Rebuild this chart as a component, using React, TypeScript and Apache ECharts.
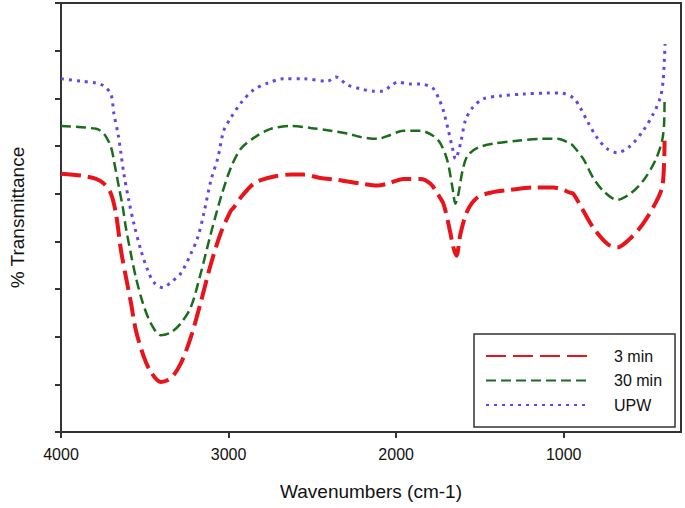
import React, { useEffect, useRef } from "react";
import * as echarts from "echarts";

const seriesNames = ["3 min", "30 min", "UPW"];

const red3min: [number, number][] = [
  [4000, 5.42], [3880, 5.38], [3791, 5.31], [3744, 5.21], [3702, 5.0], [3672, 4.58],
  [3642, 3.81], [3613, 3.26], [3583, 2.72], [3553, 2.13], [3505, 1.57], [3464, 1.26],
  [3404, 1.05], [3344, 1.13], [3285, 1.44], [3225, 1.99], [3166, 2.72], [3106, 3.52],
  [3046, 4.18], [2987, 4.64], [2969, 4.71], [2927, 4.92], [2850, 5.21], [2766, 5.33],
  [2629, 5.4], [2552, 5.4], [2451, 5.33], [2349, 5.29], [2212, 5.21], [2111, 5.17],
  [2051, 5.21], [1956, 5.31], [1855, 5.31], [1795, 5.21], [1753, 5.0], [1718, 4.79],
  [1688, 4.37], [1658, 3.87], [1640, 3.7], [1616, 4.16], [1575, 4.64], [1515, 4.92],
  [1437, 5.02], [1318, 5.08], [1181, 5.13], [1062, 5.13], [1020, 5.1], [961, 5.02],
  [943, 5.0], [883, 4.64], [824, 4.29], [740, 3.95], [681, 3.87], [603, 4.06],
  [526, 4.37], [454, 4.79], [413, 5.13], [401, 5.63], [398, 6.11],
];

const green30min: [number, number][] = [
  [4000, 6.42], [3791, 6.36], [3744, 6.26], [3702, 5.98], [3684, 5.69], [3654, 5.13],
  [3631, 4.71], [3613, 4.29], [3583, 3.74], [3553, 3.24], [3511, 2.7], [3464, 2.28],
  [3404, 2.03], [3344, 2.09], [3285, 2.28], [3225, 2.62], [3166, 3.33], [3106, 4.16],
  [3046, 4.92], [2987, 5.54], [2927, 5.94], [2850, 6.17], [2749, 6.36], [2629, 6.42],
  [2510, 6.38], [2391, 6.32], [2290, 6.26], [2212, 6.19], [2111, 6.15], [2051, 6.21],
  [1956, 6.32], [1855, 6.32], [1777, 6.21], [1735, 6.05], [1694, 5.69], [1664, 5.13],
  [1646, 4.79], [1628, 5.0], [1604, 5.48], [1575, 5.79], [1515, 5.96], [1420, 6.05],
  [1277, 6.11], [1122, 6.15], [1038, 6.15], [961, 6.05], [943, 6.0], [883, 5.73],
  [824, 5.33], [764, 5.06], [681, 4.87], [603, 5.0], [526, 5.27], [454, 5.69],
  [413, 6.11], [401, 6.46], [398, 7.01],
];

const purpleUPW: [number, number][] = [
  [4000, 7.41], [3881, 7.36], [3791, 7.32], [3744, 7.26], [3702, 7.09], [3684, 6.67],
  [3660, 6.26], [3642, 5.84], [3625, 5.42], [3595, 4.85], [3565, 4.37], [3523, 3.81],
  [3482, 3.39], [3446, 3.14], [3392, 3.03], [3344, 3.14], [3285, 3.33], [3225, 3.74],
  [3184, 4.08], [3148, 4.58], [3106, 5.27], [3064, 5.75], [3029, 6.32], [2987, 6.59],
  [2927, 6.9], [2850, 7.18], [2766, 7.32], [2671, 7.41], [2552, 7.41], [2409, 7.36],
  [2361, 7.45], [2290, 7.28], [2212, 7.2], [2135, 7.15], [2081, 7.15], [2033, 7.26],
  [1992, 7.34], [1914, 7.3], [1855, 7.3], [1783, 7.22], [1747, 7.01], [1718, 6.74],
  [1688, 6.32], [1664, 5.96], [1646, 5.73], [1616, 6.05], [1587, 6.53], [1545, 6.8],
  [1479, 6.99], [1378, 7.05], [1241, 7.09], [1098, 7.11], [1020, 7.11], [943, 7.01],
  [901, 6.8], [854, 6.49], [800, 6.17], [740, 5.94], [681, 5.86], [603, 6.0],
  [526, 6.32], [466, 6.67], [424, 7.01], [407, 7.36], [395, 8.14],
];

const xTickLabels = [1000, 2000, 3000, 4000];

const FONT = "Arial, 'Liberation Sans', sans-serif";

export default function App() {
  const ref = useRef<HTMLDivElement>(null);
  useEffect(() => {
    if (!ref.current) return;
    const chart = echarts.init(ref.current, undefined, { renderer: "svg" });
    chart.setOption({
      animation: false,
      backgroundColor: "#ffffff",
      grid: {
        left: 60,
        top: 3,
        right: 4,
        height: 429,
        show: true,
        borderColor: "#333",
        borderWidth: 2,
      },
      legend: {
        orient: "vertical",
        left: 474,
        top: 334,
        borderColor: "#333",
        borderWidth: 1.5,
        padding: [14, 13, 14, 11],
        itemWidth: 102,
        itemHeight: 14,
        itemGap: 8.5,
        itemStyle: { opacity: 0 },
        textStyle: { fontSize: 16, fontFamily: FONT, color: "#111", padding: [0, 0, 0, 21] },
        data: seriesNames,
      },
      xAxis: {
        type: "value",
        inverse: true,
        min: 300,
        max: 4000,
        name: "Wavenumbers (cm-1)",
        nameLocation: "middle",
        nameGap: 50,
        nameTextStyle: { fontSize: 19, fontFamily: FONT, color: "#111" },
        axisLine: { onZero: false, lineStyle: { color: "#333", width: 2 } },
        axisTick: { show: true, length: 6, lineStyle: { color: "#333", width: 2 } },
        axisLabel: {
          fontSize: 16,
          fontFamily: FONT,
          color: "#111",
          margin: 14,
          showMinLabel: false,
          formatter: (v: number) => (xTickLabels.includes(v) ? String(v) : ""),
        },
        splitLine: { show: false },
      },
      yAxis: {
        type: "value",
        min: 0,
        max: 9,
        interval: 1,
        name: "% Transmittance",
        nameLocation: "middle",
        nameGap: 34,
        nameTextStyle: { fontSize: 19, fontFamily: FONT, color: "#111" },
        axisLine: { onZero: false, lineStyle: { color: "#333", width: 2 } },
        axisTick: { show: true, length: 6, lineStyle: { color: "#333", width: 2 } },
        axisLabel: { show: false },
        splitLine: { show: false },
      },
      series: [
        {
          name: seriesNames[0],
          type: "line",
          data: red3min,
          symbol: "none",
          smooth: 0.3,
          lineStyle: { color: "#e8141c", width: 4, type: [20, 7] },
          itemStyle: { color: "#e8141c" },
        },
        {
          name: seriesNames[1],
          type: "line",
          data: green30min,
          symbol: "none",
          smooth: 0.3,
          lineStyle: { color: "#1b6d1b", width: 2.5, type: [10, 5] },
          itemStyle: { color: "#1b6d1b" },
        },
        {
          name: seriesNames[2],
          type: "line",
          data: purpleUPW,
          symbol: "none",
          smooth: 0.3,
          lineStyle: { color: "#6a44e2", width: 3, type: [3, 5] },
          itemStyle: { color: "#6a44e2" },
        },
      ],
    });
    return () => chart.dispose();
  }, []);
  return (
    <div
      ref={ref}
      style={{ position: "absolute", left: 0, top: 0, width: 685, height: 508 }}
    />
  );
}
